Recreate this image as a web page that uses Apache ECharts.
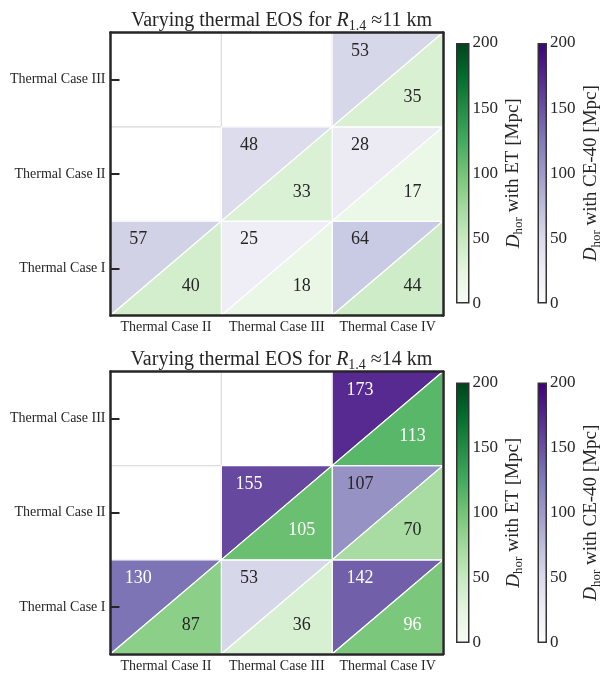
<!DOCTYPE html>
<html>
<head>
<meta charset="utf-8">
<script src="https://cdn.jsdelivr.net/npm/echarts@6/dist/echarts.min.js"></script>
<style>
html,body{margin:0;padding:0;background:#fff;}
#chart{width:604px;height:673px;}
</style>
</head>
<body>
<div id="chart"></div>
<script>
// ---- data ----
const xCats = ['Thermal Case II', 'Thermal Case III', 'Thermal Case IV'];
const yCats = ['Thermal Case I', 'Thermal Case II', 'Thermal Case III'];
// occupied cells: [xIndex, yIndex]
const cellX = [0, 1, 2, 1, 2, 2];
const cellY = [0, 0, 0, 1, 1, 2];
// R_1.4 ~ 11 km
const ce11 = [57, 25, 64, 48, 28, 53];
const et11 = [40, 18, 44, 33, 17, 35];
// R_1.4 ~ 14 km
const ce14 = [130, 53, 142, 155, 107, 173];
const et14 = [87, 36, 96, 105, 70, 113];
const cbMin = 0, cbMax = 200, cbStep = 50;

// ---- colormaps (matplotlib Greens / Purples) ----
const greens = ['#f7fcf5','#e5f5e0','#c7e9c0','#a1d99b','#74c476','#41ab5d','#238b45','#006d2c','#00441b'];
const purples = ['#fcfbfd','#efedf5','#dadaeb','#bcbddc','#9e9ac8','#807dba','#6a51a3','#54278f','#3f007d'];

const SERIF = '"Liberation Serif", "DejaVu Serif", serif';
const DARK = '#262626';

function toData(vals) { return vals.map((v, i) => [cellX[i], cellY[i], v]); }

function triRender(upper, whiteAbove) {
  return function (params, api) {
    const x = api.value(0), y = api.value(1), v = api.value(2);
    const c = api.coord([x, y]);
    const s = api.size([1, 1]);
    const w = s[0], h = s[1];
    const l = c[0] - w / 2, r = c[0] + w / 2, t = c[1] - h / 2, b = c[1] + h / 2;
    const pts = upper ? [[l, t], [r, t], [l, b]] : [[r, t], [r, b], [l, b]];
    const tx = upper ? l + 0.25 * w : l + 0.725 * w;
    const ty = upper ? t + 0.195 * h : t + 0.69 * h;
    return {
      type: 'group',
      children: [
        { type: 'polygon', shape: { points: pts },
          style: { fill: api.visual('color'), stroke: '#ffffff', lineWidth: 1.2 } },
        { type: 'text', x: tx, y: ty,
          style: { text: String(v), fill: v > whiteAbove ? '#ffffff' : DARK,
                   fontSize: 18, fontFamily: SERIF, align: 'center', verticalAlign: 'middle' } }
      ]
    };
  };
}

function bgRender(params, api) {
  const c = api.coord([api.value(0), api.value(1)]);
  const s = api.size([1, 1]);
  return { type: 'rect', shape: { x: c[0] - s[0] / 2, y: c[1] - s[1] / 2, width: s[0], height: s[1] },
           style: { fill: '#ffffff', stroke: '#d9d9d9', lineWidth: 1 } };
}

const bgData = [];
xCats.forEach((_, i) => yCats.forEach((__, j) => bgData.push([i, j])));

function gradient(stops) {
  return new echarts.graphic.LinearGradient(0, 1, 0, 0,
    stops.map((c, i) => ({ offset: i / (stops.length - 1), color: c })));
}

const grids = [
  { left: 110.5, top: 32.5, width: 332.5, height: 283 },
  { left: 110.5, top: 371.5, width: 332.5, height: 284 },
  { left: 456, top: 43, width: 13.5, height: 260.5 },
  { left: 537.5, top: 43, width: 13.5, height: 260.5 },
  { left: 456, top: 382.5, width: 13.5, height: 260.5 },
  { left: 537.5, top: 382.5, width: 13.5, height: 260.5 }
];

const frameLine = { show: true, lineStyle: { color: DARK, width: 2.5 } };
const xAxes = [], yAxes = [];
[0, 1].forEach(g => {
  xAxes.push({ type: 'category', data: xCats, gridIndex: g, position: 'bottom', z: 10,
    axisLine: frameLine, axisTick: { show: false }, splitLine: { show: false },
    axisLabel: { fontFamily: SERIF, fontSize: 14, color: DARK, margin: 5, interval: 0, hideOverlap: false } });
  xAxes.push({ type: 'category', data: xCats, gridIndex: g, position: 'top', z: 10,
    axisLine: frameLine, axisTick: { show: false }, axisLabel: { show: false }, splitLine: { show: false } });
  yAxes.push({ type: 'category', data: yCats, gridIndex: g, position: 'left', z: 10,
    axisLine: frameLine,
    axisTick: { show: true, inside: true, alignWithLabel: true, length: 9, lineStyle: { color: DARK, width: 2 } },
    splitLine: { show: false },
    axisLabel: { fontFamily: SERIF, fontSize: 14, color: DARK, margin: 5, interval: 0 } });
  yAxes.push({ type: 'category', data: yCats, gridIndex: g, position: 'right', z: 10,
    axisLine: frameLine, axisTick: { show: false }, axisLabel: { show: false }, splitLine: { show: false } });
});

const cbNames = ['ET', 'CE-40', 'ET', 'CE-40'];
[2, 3, 4, 5].forEach((g, k) => {
  xAxes.push({ type: 'category', data: ['cb'], gridIndex: g, show: false });
  yAxes.push({ type: 'value', gridIndex: g, position: 'right', min: cbMin, max: cbMax, interval: cbStep,
    axisLine: { show: false }, axisTick: { show: false }, splitLine: { show: false },
    axisLabel: { fontFamily: SERIF, fontSize: 17, color: DARK, margin: 3 },
    name: '{i|D}{s|hor}{a| with ' + cbNames[k] + ' [Mpc]}',
    nameLocation: 'middle', nameRotate: 90, nameGap: 32,
    nameTextStyle: {
      rich: {
        i: { fontFamily: SERIF, fontSize: 19, fontStyle: 'italic', color: DARK, lineHeight: 24 },
        s: { fontFamily: SERIF, fontSize: 13, color: DARK, lineHeight: 13, verticalAlign: 'bottom' },
        a: { fontFamily: SERIF, fontSize: 19, color: DARK, lineHeight: 24 }
      }
    } });
});

const series = [
  { type: 'custom', xAxisIndex: 0, yAxisIndex: 0, data: bgData, renderItem: bgRender, z: 1, silent: true },
  { type: 'custom', xAxisIndex: 0, yAxisIndex: 0, data: toData(ce11), renderItem: triRender(true, 120), z: 2 },
  { type: 'custom', xAxisIndex: 0, yAxisIndex: 0, data: toData(et11), renderItem: triRender(false, 90), z: 2 },
  { type: 'custom', xAxisIndex: 2, yAxisIndex: 2, data: bgData, renderItem: bgRender, z: 1, silent: true },
  { type: 'custom', xAxisIndex: 2, yAxisIndex: 2, data: toData(ce14), renderItem: triRender(true, 120), z: 2 },
  { type: 'custom', xAxisIndex: 2, yAxisIndex: 2, data: toData(et14), renderItem: triRender(false, 90), z: 2 }
];
const cbMaps = [greens, purples, greens, purples];
[4, 5, 6, 7].forEach((ax, k) => {
  series.push({ type: 'bar', xAxisIndex: ax, yAxisIndex: ax, data: [cbMax], barWidth: '100%', silent: true,
    itemStyle: { color: gradient(cbMaps[k]), borderColor: '#333333', borderWidth: 1.5 } });
});

const titleRich = {
  a: { fontFamily: SERIF, fontSize: 20, fontWeight: 'normal', color: DARK, lineHeight: 24 },
  i: { fontFamily: SERIF, fontSize: 20, fontWeight: 'normal', fontStyle: 'italic', color: DARK, lineHeight: 24 },
  s: { fontFamily: SERIF, fontSize: 14, fontWeight: 'normal', color: DARK, lineHeight: 14, verticalAlign: 'bottom' }
};

const option = {
  animation: false,
  backgroundColor: '#ffffff',
  title: [
    { text: '{a|Varying thermal EOS for }{i|R}{s|1.4}{a| \u224811 km}', left: 276.5, top: 4, textAlign: 'center',
      textStyle: { fontWeight: 'normal', rich: titleRich } },
    { text: '{a|Varying thermal EOS for }{i|R}{s|1.4}{a| \u224814 km}', left: 276.5, top: 343, textAlign: 'center',
      textStyle: { fontWeight: 'normal', rich: titleRich } }
  ],
  grid: grids,
  xAxis: xAxes,
  yAxis: yAxes,
  visualMap: [
    { show: false, type: 'continuous', min: cbMin, max: cbMax, dimension: 2, seriesIndex: 1, inRange: { color: purples } },
    { show: false, type: 'continuous', min: cbMin, max: cbMax, dimension: 2, seriesIndex: 2, inRange: { color: greens } },
    { show: false, type: 'continuous', min: cbMin, max: cbMax, dimension: 2, seriesIndex: 4, inRange: { color: purples } },
    { show: false, type: 'continuous', min: cbMin, max: cbMax, dimension: 2, seriesIndex: 5, inRange: { color: greens } }
  ],
  series: series
};

const chart = echarts.init(document.getElementById('chart'), null, { renderer: 'canvas' });
chart.setOption(option);
</script>
</body>
</html>
